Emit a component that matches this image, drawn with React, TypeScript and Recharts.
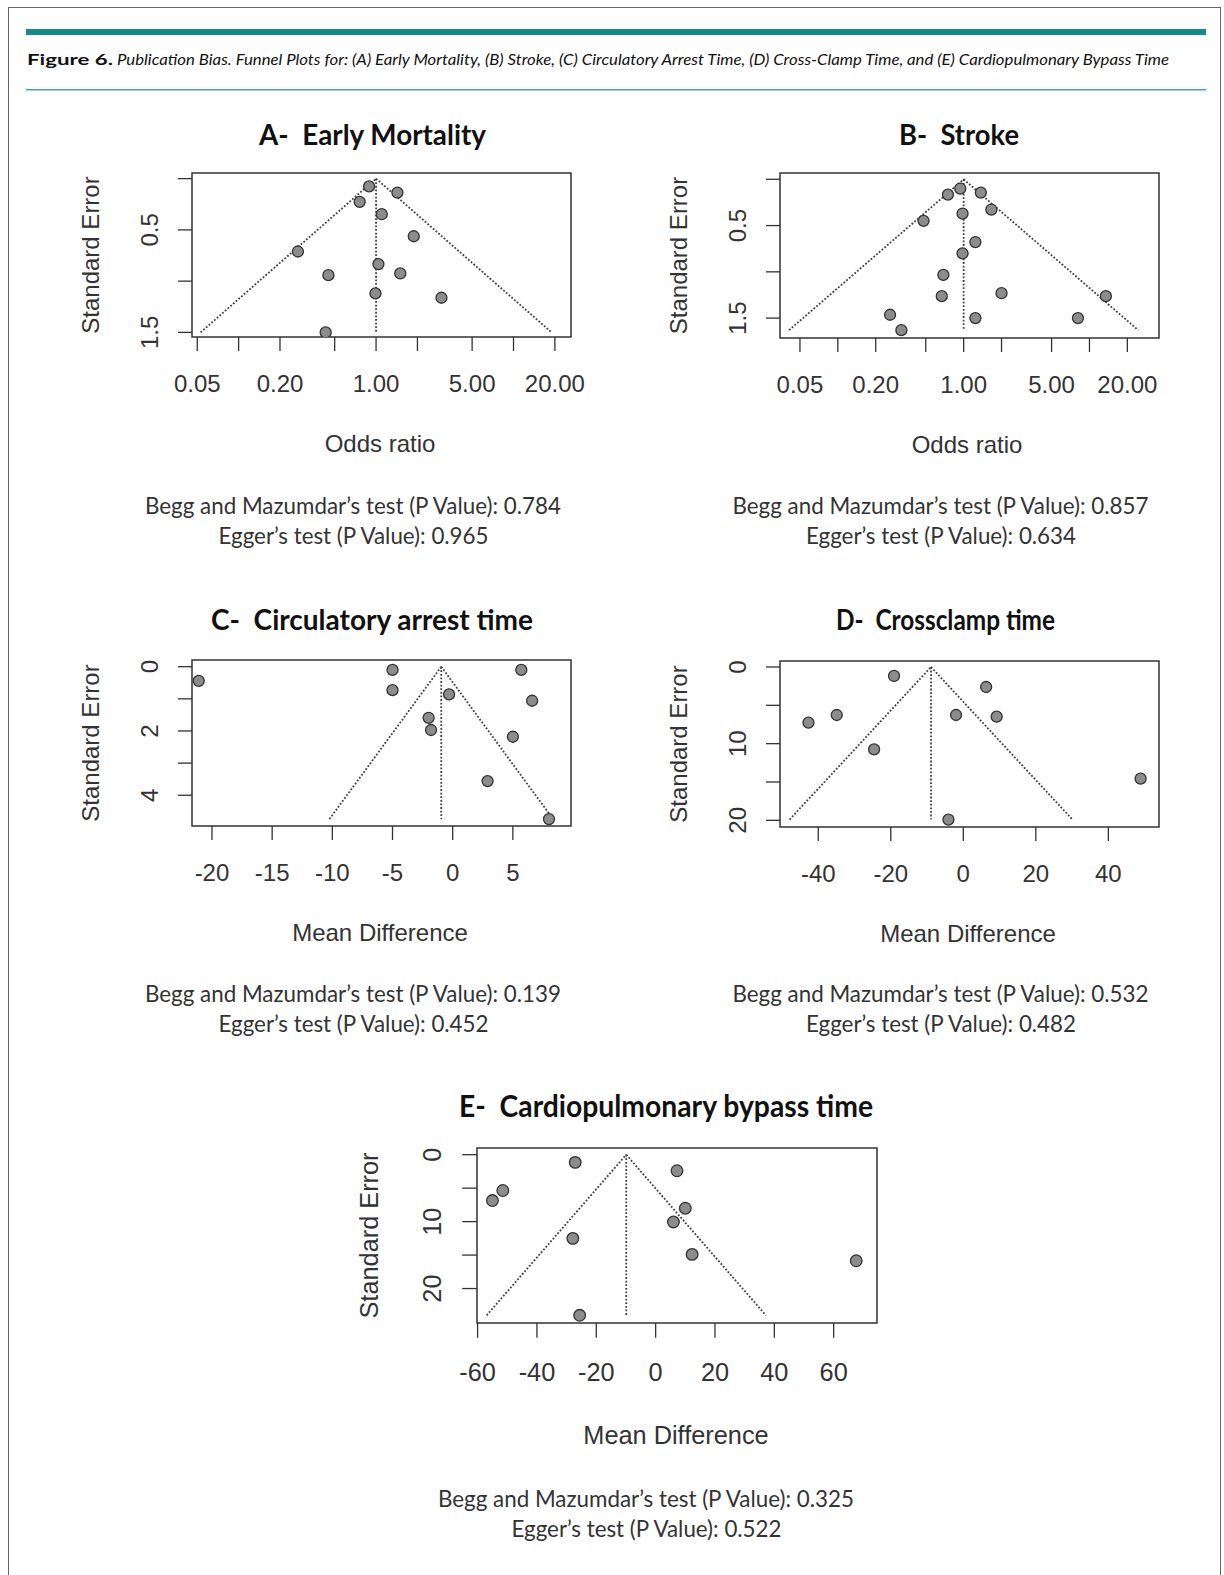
import React from "react";
import {
	ScatterChart,
	Scatter,
	XAxis,
	YAxis,
	ReferenceLine,
	ReferenceArea,
} from "recharts";

// values
const aOddsRatio = [0.89, 1.43, 0.76, 1.1, 1.88, 0.27, 1.04, 0.45, 1.5, 0.99, 2.99, 0.43];
const aStdErr = [0.075, 0.136, 0.227, 0.347, 0.562, 0.711, 0.834, 0.942, 0.925, 1.12, 1.162, 1.5];
const bOddsRatio = [0.94, 0.75, 1.37, 1.66, 0.98, 0.48, 1.24, 0.98, 0.69, 0.67, 2.0, 13.5, 0.26, 1.24, 8.1, 0.32];
const bStdErr = [0.1, 0.165, 0.144, 0.327, 0.37, 0.449, 0.678, 0.8, 1.033, 1.263, 1.231, 1.263, 1.464, 1.5, 1.5, 1.63];
const cMeanDiff = [-21.1, -5.0, -5.0, -0.3, 5.7, 6.6, -2.0, -1.8, 5.0, 2.9, 8.0];
const cStdErr = [0.44, 0.1, 0.73, 0.86, 0.1, 1.06, 1.59, 1.97, 2.18, 3.56, 4.74];
const dMeanDiff = [-19.1, 6.3, -42.7, -34.9, -2.0, 9.2, -24.6, 48.9, -4.1];
const dStdErr = [1.17, 2.61, 7.26, 6.26, 6.26, 6.48, 10.74, 14.57, 19.9];
const eMeanDiff = [-27.1, 7.2, -51.5, -55.0, 10.0, 6.0, -27.9, 12.3, 67.6, -25.6];
const eStdErr = [1.15, 2.4, 5.35, 6.85, 8.0, 10.05, 12.5, 14.9, 15.85, 24.0];

// pooled estimate and largest SE (funnel apex / base)
const pooled = { a: 1.0, b: 1.0, c: -0.95, d: -8.9, e: -9.9 };
const maxSE = { a: 1.5, b: 1.63, c: 4.74, d: 19.9, e: 24 };

// tick values
const orTicks = [0.05, 0.1, 0.2, 0.5, 1, 2, 5, 10, 20];
const orLabelled = [0.05, 0.2, 1, 5, 20];
const seTicksOR = [0, 0.5, 1, 1.5];
const seLabelledOR = [0.5, 1.5];
const cXTicks = [-20, -15, -10, -5, 0, 5];
const cSeTicks = [0, 1, 2, 3, 4];
const cSeLabelled = [0, 2, 4];
const mdXTicks = [-40, -20, 0, 20, 40];
const eXTicks = [-60, -40, -20, 0, 20, 40, 60];
const mdSeTicks = [0, 5, 10, 15, 20];
const mdSeLabelled = [0, 10, 20];

const beggP = ["0.784", "0.857", "0.139", "0.532", "0.325"];
const eggerP = ["0.965", "0.634", "0.452", "0.482", "0.522"];

const INK = "#333";
const AXIS_FONT = '"Liberation Sans", Arial, sans-serif';
const DOC_FONT = 'Lato, "Open Sans", sans-serif';

const toPts = (xs, ys) => xs.map((x, i) => ({ x, y: ys[i] }));

function FunnelPanel({ box, k, pts, xDomain, yDomain, xTicks, xFmt, yTicks, yFmt, log, center, se }) {
	const YAW = 70;
	const MT = 10;
	const MR = 45;
	const XAH = Math.round(70 * k);
	const fs = 24 * k;
	const lo = log ? center * Math.exp(-1.96 * se) : center - 1.96 * se;
	const hi = log ? center * Math.exp(1.96 * se) : center + 1.96 * se;
	const baseX = YAW - 43 * k + 0.358 * fs;

	const YTick = (p) => {
		const label = yFmt(p.payload.value);
		if (!label) return <g />;
		return (
			<text
				x={baseX}
				y={p.y}
				transform={`rotate(-90 ${baseX} ${p.y})`}
				textAnchor="middle"
				fontSize={fs}
				fontFamily={AXIS_FONT}
				fill={INK}
			>
				{label}
			</text>
		);
	};

	const dotted = { stroke: "#404040", strokeWidth: 1.8, strokeDasharray: "1.8 1.8", ifOverflow: "visible" };

	return (
		<div style={{ position: "absolute", left: box.x - YAW, top: box.y - MT }}>
			<ScatterChart
				width={YAW + box.w + MR}
				height={MT + box.h + XAH}
				margin={{ top: MT, right: MR, bottom: 0, left: 0 }}
			>
				<XAxis
					type="number"
					dataKey="x"
					scale={log ? "log" : "linear"}
					domain={xDomain}
					allowDataOverflow
					ticks={xTicks}
					interval={0}
					tickFormatter={xFmt}
					tickSize={14 * k}
					tickMargin={23.5 * k}
					axisLine={false}
					tickLine={{ stroke: INK, strokeWidth: 1.3 }}
					tick={{ fontSize: fs, fill: INK, fontFamily: AXIS_FONT }}
					height={XAH}
				/>
				<YAxis
					type="number"
					dataKey="y"
					domain={yDomain}
					allowDataOverflow
					reversed
					ticks={yTicks}
					interval={0}
					tickSize={14 * k}
					tickMargin={0}
					axisLine={false}
					tickLine={{ stroke: INK, strokeWidth: 1.3 }}
					tick={YTick}
					width={YAW}
				/>
				<ReferenceArea
					x1={xDomain[0]}
					x2={xDomain[1]}
					y1={yDomain[0]}
					y2={yDomain[1]}
					fill="none"
					fillOpacity={0}
					stroke={INK}
					strokeWidth={1.5}
					ifOverflow="visible"
				/>
				<ReferenceLine segment={[{ x: lo, y: se }, { x: center, y: 0 }]} {...dotted} />
				<ReferenceLine segment={[{ x: center, y: 0 }, { x: hi, y: se }]} {...dotted} />
				<ReferenceLine segment={[{ x: center, y: 0 }, { x: center, y: se }]} {...dotted} />
				<Scatter
					data={pts}
					isAnimationActive={false}
					shape={(p) => (
						<circle cx={p.cx} cy={p.cy} r={5.5 * k} fill="#8c8c8c" stroke="#333" strokeWidth={1.3} />
					)}
				/>
			</ScatterChart>
		</div>
	);
}

const orFmt = (v) => (orLabelled.includes(v) ? v.toFixed(2) : "");
const seFmtOR = (v) => (seLabelledOR.includes(v) ? v.toFixed(1) : "");
const numFmt = (v) => String(v);
const cSeFmt = (v) => (cSeLabelled.includes(v) ? String(v) : "");
const mdSeFmt = (v) => (mdSeLabelled.includes(v) ? String(v) : "");

const boxA = { x: 192, y: 173, w: 379, h: 164 };
const boxB = { x: 780, y: 173, w: 379, h: 165 };
const boxC = { x: 192, y: 660, w: 379, h: 166 };
const boxD = { x: 780, y: 661, w: 379, h: 166 };
const boxE = { x: 477, y: 1148, w: 400, h: 175 };

const titles = [
	{ t: "A-  Early Mortality", x: 372.5, y: 133.5, len: 227 },
	{ t: "B-  Stroke", x: 959, y: 133.5, len: 120 },
	{ t: "C-  Circulatory arrest time", x: 372, y: 619, len: 322 },
	{ t: "D-  Crossclamp time", x: 945.5, y: 619, len: 219 },
	{ t: "E-  Cardiopulmonary bypass time", x: 666, y: 1105, len: 414, k: 1.055 },
];

const axisTitles = [
	{ box: boxA, k: 1, x: "Odds ratio", dx: -1.5 },
	{ box: boxB, k: 1, x: "Odds ratio", dx: -2.5 },
	{ box: boxC, k: 1, x: "Mean Difference", dx: -1.5 },
	{ box: boxD, k: 1, x: "Mean Difference", dx: -1.5 },
	{ box: boxE, k: 1.055, x: "Mean Difference", dx: -1 },
];

const stats = [
	{ cx: 353, y: 505 },
	{ cx: 940.5, y: 505 },
	{ cx: 353, y: 993 },
	{ cx: 940.5, y: 993 },
	{ cx: 646, y: 1498 },
];

export default function App() {
	return (
		<div style={{ position: "absolute", left: 0, top: 0, width: 1224, height: 1575, background: "#fff", overflow: "hidden" }}>
			<svg width={1224} height={1575} style={{ position: "absolute", left: 0, top: 0 }}>
				<rect x={8.5} y={7.5} width={1212} height={1600} fill="none" stroke="#666" strokeWidth={1} />
				<rect x={26} y={29} width={1180} height={6} fill="#138a8e" />
				<rect x={26} y={89} width={1180} height={1.5} fill="#3ea8ac" />
				<text x={27} y={65} fontFamily={DOC_FONT} fontWeight={700} fontSize={16} fill="#111" textLength={86} lengthAdjust="spacingAndGlyphs">
					Figure 6.
				</text>
				<text x={117} y={65} fontFamily={DOC_FONT} fontStyle="italic" fontSize={15} fill="#111" textLength={1052} lengthAdjust="spacingAndGlyphs">
					Publication Bias. Funnel Plots for: (A) Early Mortality, (B) Stroke, (C) Circulatory Arrest Time, (D) Cross-Clamp Time, and (E) Cardiopulmonary Bypass Time
				</text>

				{titles.map((t) => (
					<text
						key={t.t}
						x={t.x}
						y={t.y}
						textAnchor="middle"
						dominantBaseline="central"
						fontFamily={DOC_FONT}
						fontWeight={700}
						fontSize={28 * (t.k || 1)}
						fill="#111"
						textLength={t.len}
						lengthAdjust="spacingAndGlyphs"
						style={{ whiteSpace: "pre" }}
					>
						{t.t}
					</text>
				))}

				{axisTitles.map((a, i) => {
					const fs = 24 * a.k;
					const cx = a.box.x + a.box.w / 2 + a.dx;
					const cy = a.box.y + a.box.h + 106 * a.k;
					const yx = a.box.x - 102 * a.k;
					const yy = a.box.y + a.box.h / 2;
					return (
						<g key={i} fontFamily={AXIS_FONT} fontSize={fs} fill={INK}>
							<text x={cx} y={cy} textAnchor="middle" dominantBaseline="central">
								{a.x}
							</text>
							<text x={yx} y={yy} textAnchor="middle" dominantBaseline="central" transform={`rotate(-90 ${yx} ${yy})`}>
								Standard Error
							</text>
						</g>
					);
				})}

				{stats.map((s, i) => (
					<g key={i} fontFamily={DOC_FONT} fontSize={22.5} fill={INK}>
						<text x={s.cx} y={s.y} textAnchor="middle" dominantBaseline="central" textLength={416} lengthAdjust="spacingAndGlyphs">
							{`Begg and Mazumdar’s test (P Value): ${beggP[i]}`}
						</text>
						<text x={s.cx + 0.5} y={s.y + 30} textAnchor="middle" dominantBaseline="central" textLength={270} lengthAdjust="spacingAndGlyphs">
							{`Egger’s test (P Value): ${eggerP[i]}`}
						</text>
					</g>
				))}
			</svg>

			<FunnelPanel
				box={boxA}
				k={1}
				pts={toPts(aOddsRatio, aStdErr)}
				xDomain={[0.0458, 26.2]}
				yDomain={[-0.055, 1.545]}
				xTicks={orTicks}
				xFmt={orFmt}
				yTicks={seTicksOR}
				yFmt={seFmtOR}
				log
				center={pooled.a}
				se={maxSE.a}
			/>
			<FunnelPanel
				box={boxB}
				k={1}
				pts={toPts(bOddsRatio, bStdErr)}
				xDomain={[0.0347, 35.7]}
				yDomain={[-0.068, 1.715]}
				xTicks={orTicks}
				xFmt={orFmt}
				yTicks={seTicksOR}
				yFmt={seFmtOR}
				log
				center={pooled.b}
				se={maxSE.b}
			/>
			<FunnelPanel
				box={boxC}
				k={1}
				pts={toPts(cMeanDiff, cStdErr)}
				xDomain={[-21.66, 9.83]}
				yDomain={[-0.208, 4.956]}
				xTicks={cXTicks}
				xFmt={numFmt}
				yTicks={cSeTicks}
				yFmt={cSeFmt}
				center={pooled.c}
				se={maxSE.c}
			/>
			<FunnelPanel
				box={boxD}
				k={1}
				pts={toPts(dMeanDiff, dStdErr)}
				xDomain={[-50.55, 53.97]}
				yDomain={[-0.78, 20.87]}
				xTicks={mdXTicks}
				xFmt={numFmt}
				yTicks={mdSeTicks}
				yFmt={mdSeFmt}
				center={pooled.d}
				se={maxSE.d}
			/>
			<FunnelPanel
				box={boxE}
				k={1.055}
				pts={toPts(eMeanDiff, eStdErr)}
				xDomain={[-60.2, 74.6]}
				yDomain={[-1.0, 25.15]}
				xTicks={eXTicks}
				xFmt={numFmt}
				yTicks={mdSeTicks}
				yFmt={mdSeFmt}
				center={pooled.e}
				se={maxSE.e}
			/>
		</div>
	);
}
